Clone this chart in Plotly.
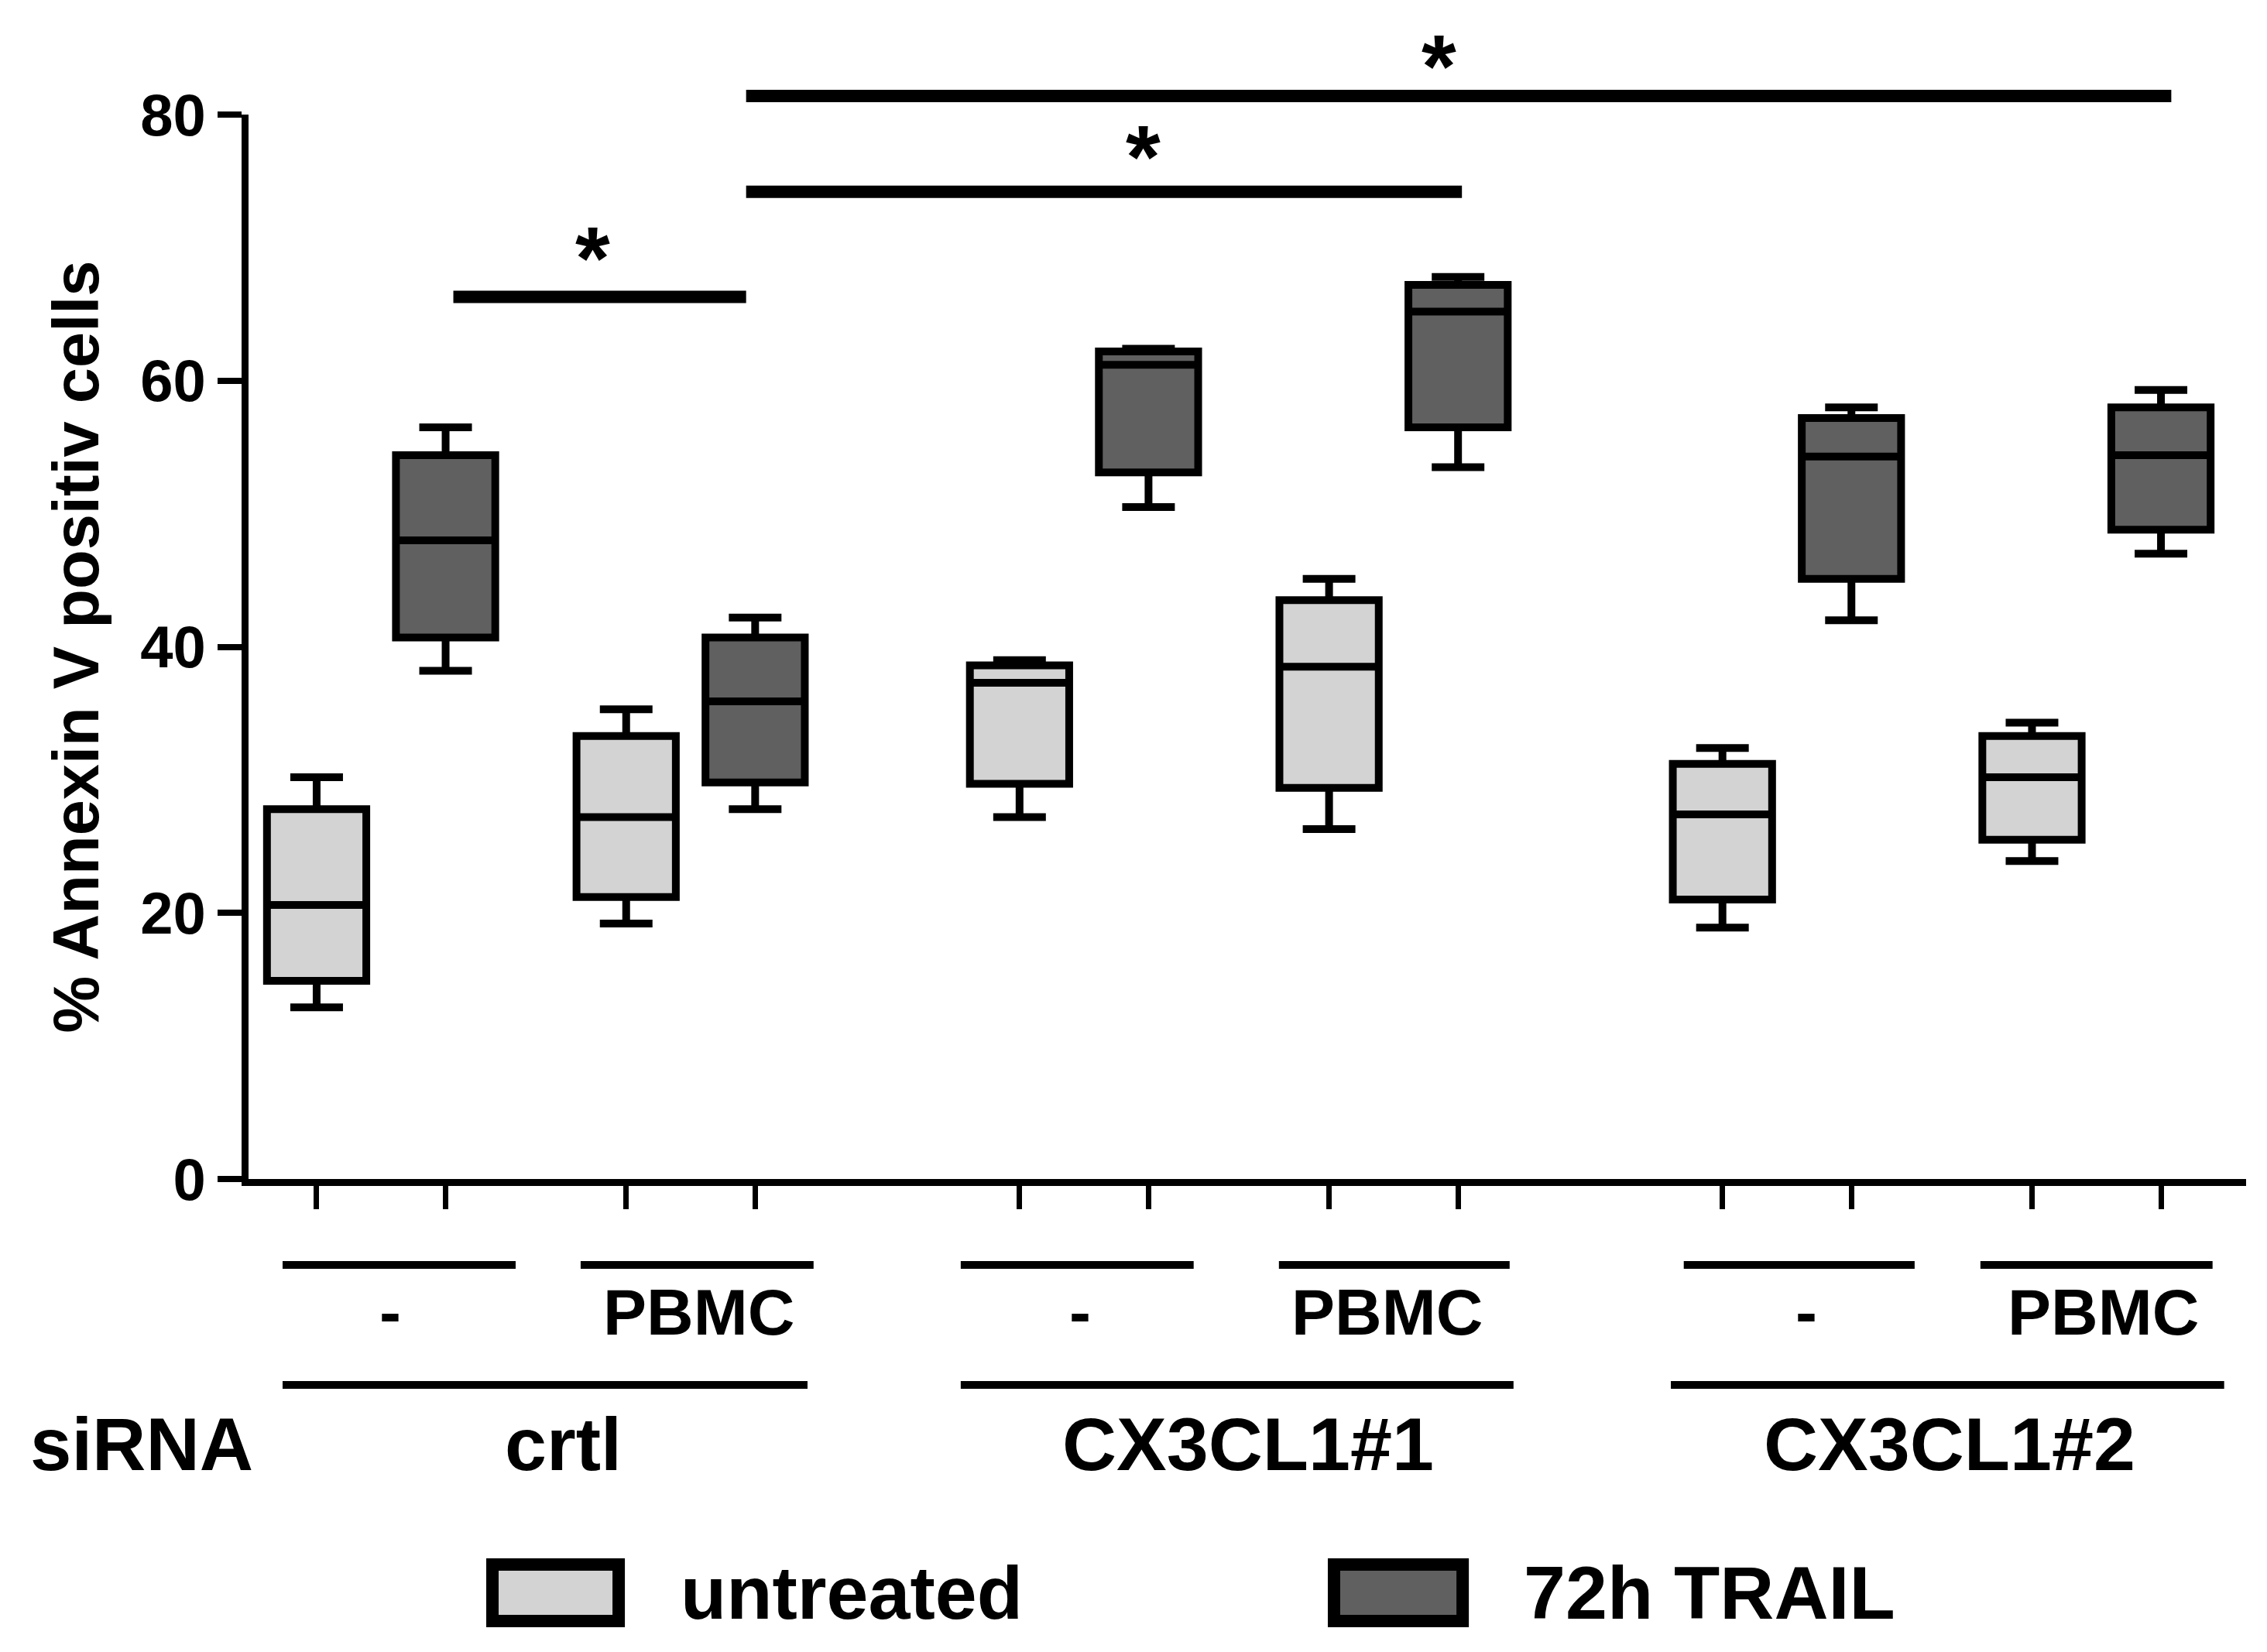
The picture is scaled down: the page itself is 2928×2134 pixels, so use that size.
import plotly.graph_objects as go

# ---------------- data ----------------
untreated_x = [0, 2.4, 5.45, 7.85, 10.9, 13.3]
untreated_low = [12.9, 19.2, 27.2, 26.3, 18.9, 23.9]
untreated_q1 = [14.9, 21.2, 29.7, 29.4, 21.0, 25.5]
untreated_med = [20.6, 27.2, 37.3, 38.5, 27.4, 30.2]
untreated_q3 = [27.8, 33.3, 38.6, 43.5, 31.2, 33.3]
untreated_high = [30.2, 35.3, 39.0, 45.1, 32.4, 34.3]

trail_x = [1, 3.4, 6.45, 8.85, 11.9, 14.3]
trail_low = [38.2, 27.8, 50.5, 53.5, 42.0, 47.0]
trail_q1 = [40.7, 29.8, 53.1, 56.5, 45.1, 48.8]
trail_med = [48.0, 35.9, 61.2, 65.2, 54.3, 54.4]
trail_q3 = [54.4, 40.7, 62.2, 67.2, 57.2, 58.0]
trail_high = [56.5, 42.2, 62.4, 67.8, 58.0, 59.3]

y_ticks = [0, 20, 40, 60, 80]

# significance bars
sig_start = [1.06, 3.33, 3.33]
sig_end = [3.33, 8.88, 14.38]
sig_y = [66.3, 74.2, 81.4]
# significance stars
star_label = ["*", "*", "*"]
star_x = [2.14, 6.41, 8.70]
star_y = [70.2, 77.8, 84.6]

# treatment labels (under each pair) and their bracket lines
treat_labels = ["-", "PBMC", "-", "PBMC", "-", "PBMC"]
treat_center = [0.57, 2.965, 5.92, 8.30, 11.55, 13.85]
treat_line_start = [-0.264, 2.047, 4.994, 7.461, 10.6, 12.9]
treat_line_end = [1.543, 3.853, 6.80, 9.25, 12.39, 14.7]

# siRNA group labels and their bracket lines
group_labels = ["crtl", "CX3CL1#1", "CX3CL1#2"]
group_center = [1.915, 7.22, 12.66]
group_line_start = [-0.264, 4.994, 10.5]
group_line_end = [3.806, 9.28, 14.79]

series_names = ["untreated", "72h TRAIL"]
series_fill = ["#d3d3d3", "#606060"]

# ---------------- layout constants ----------------
W, H = 2928, 2134
X_RANGE = [-0.528, 14.96]
Y_RANGE = [0, 80]
FONT = "Liberation Sans, Arial, sans-serif"
STAR_SIZE = 115
STAR_OFFSET = 4.8  # glyph centre sits this far (axis units) above the text box bottom


def ypaper(v):
    return (v - Y_RANGE[0]) / (Y_RANGE[1] - Y_RANGE[0])


fig = go.Figure()

box_common = dict(
    width=0.77,
    whiskerwidth=0.53,
    line=dict(color="black", width=10),
    boxpoints=False,
    hoverinfo="skip",
    showlegend=False,
)
fig.add_trace(go.Box(
    x=untreated_x, q1=untreated_q1, median=untreated_med, q3=untreated_q3,
    lowerfence=untreated_low, upperfence=untreated_high,
    fillcolor=series_fill[0], name=series_names[0], **box_common))
fig.add_trace(go.Box(
    x=trail_x, q1=trail_q1, median=trail_med, q3=trail_q3,
    lowerfence=trail_low, upperfence=trail_high,
    fillcolor=series_fill[1], name=series_names[1], **box_common))

shapes = []
annotations = []

# significance bars and stars
for xs, xe, yv in zip(sig_start, sig_end, sig_y):
    shapes.append(dict(type="line", xref="x", yref="paper", x0=xs, x1=xe,
                       y0=ypaper(yv), y1=ypaper(yv),
                       line=dict(color="black", width=16)))
for lab, sx, sy in zip(star_label, star_x, star_y):
    annotations.append(dict(text=lab, xref="x", yref="paper", x=sx,
                            y=ypaper(sy - STAR_OFFSET), xanchor="center", yanchor="bottom",
                            showarrow=False,
                            font=dict(family=FONT, size=STAR_SIZE, color="black", weight="bold")))

# treatment brackets
TREAT_LINE_Y = -6.46
TREAT_TEXT_Y = -10.0
for xs, xe in zip(treat_line_start, treat_line_end):
    shapes.append(dict(type="line", xref="x", yref="paper", x0=xs, x1=xe,
                       y0=ypaper(TREAT_LINE_Y), y1=ypaper(TREAT_LINE_Y),
                       line=dict(color="black", width=10)))
for lab, xc in zip(treat_labels, treat_center):
    annotations.append(dict(text=lab, xref="x", yref="paper", x=xc, y=ypaper(TREAT_TEXT_Y),
                            xanchor="center", yanchor="middle", showarrow=False,
                            font=dict(family=FONT, size=84, color="black", weight="bold")))

# group brackets
GROUP_LINE_Y = -15.47
GROUP_TEXT_Y = -19.9
for xs, xe in zip(group_line_start, group_line_end):
    shapes.append(dict(type="line", xref="x", yref="paper", x0=xs, x1=xe,
                       y0=ypaper(GROUP_LINE_Y), y1=ypaper(GROUP_LINE_Y),
                       line=dict(color="black", width=10)))
for lab, xc in zip(group_labels, group_center):
    annotations.append(dict(text=lab, xref="x", yref="paper", x=xc, y=ypaper(GROUP_TEXT_Y),
                            xanchor="center", yanchor="middle", showarrow=False,
                            font=dict(family=FONT, size=97, color="black", weight="bold")))
annotations.append(dict(text="siRNA", xref="paper", yref="paper", x=-0.0535, y=ypaper(GROUP_TEXT_Y),
                        xanchor="center", yanchor="middle", showarrow=False,
                        font=dict(family=FONT, size=96, color="black", weight="bold")))

# manual legend
LEG_Y = -31.1
LEG_HALF = 2.12
leg_swatch_x0 = [0.1221, 0.5434]
leg_swatch_x1 = [0.1853, 0.6078]
leg_text_x = [0.2155, 0.6375]
for name, fill, x0, x1, tx in zip(series_names, series_fill, leg_swatch_x0, leg_swatch_x1, leg_text_x):
    shapes.append(dict(type="rect", xref="paper", yref="paper", x0=x0, x1=x1,
                       y0=ypaper(LEG_Y - LEG_HALF), y1=ypaper(LEG_Y + LEG_HALF),
                       fillcolor=fill, line=dict(color="black", width=16)))
    annotations.append(dict(text=name, xref="paper", yref="paper", x=tx, y=ypaper(LEG_Y),
                            xanchor="left", yanchor="middle", showarrow=False,
                            font=dict(family=FONT, size=97, color="black", weight="bold")))

fig.update_layout(
    width=W, height=H,
    margin=dict(l=313, r=35, t=140, b=619, autoexpand=False),
    paper_bgcolor="white", plot_bgcolor="white",
    boxmode="overlay",
    showlegend=False,
    shapes=shapes,
    annotations=annotations,
    font=dict(family=FONT, color="black"),
    xaxis=dict(
        range=X_RANGE, showgrid=False, zeroline=False,
        showline=True, linecolor="black", linewidth=9,
        ticks="outside", tickvals=untreated_x + trail_x, ticklen=30, tickwidth=7,
        tickcolor="black", showticklabels=False,
    ),
    yaxis=dict(
        range=Y_RANGE, showgrid=False, zeroline=False,
        showline=True, linecolor="black", linewidth=9,
        ticks="outside", tickvals=y_ticks, ticklen=31, tickwidth=8, tickcolor="black",
        tickfont=dict(family=FONT, size=76, color="black", weight="bold"),
        title=dict(text="% Annexin V positiv cells", standoff=30,
                   font=dict(family=FONT, size=83, color="black", weight="bold")),
    ),
)

fig.write_html("out.html")
